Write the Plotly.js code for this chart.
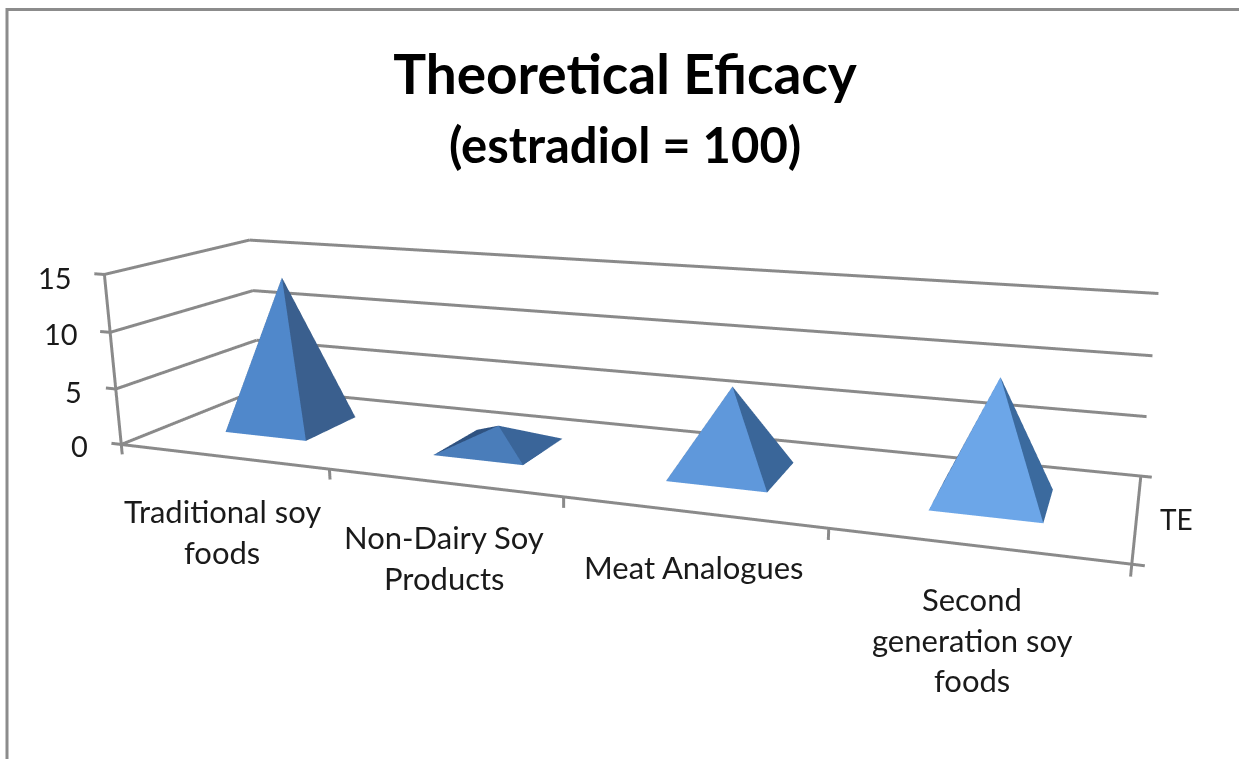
<!DOCTYPE html>
<html><head><meta charset="utf-8"><script src="https://cdn.plot.ly/plotly-3.0.0.min.js"></script>
<style>html,body{margin:0;background:#fff;width:1239px;height:759px;overflow:hidden;position:relative}#p{position:absolute}</style></head><body>
<div id="p"></div>
<script>
const categories=["Traditional soy<br>foods","Non-Dairy Soy<br>Products","Meat Analogues","Second<br>generation soy<br>foods"];
const values=[13.6,1.9,7.2,9.75];
const seriesName="TE";
const zTicks=[0,5,10,15];
const frontColors=['#5088CB','#4A7DBA','#5F98DB','#6CA6E8'];
const sideColors=['#3A5F8E','#3A6599','#3A6699','#3B6A9E'];
const backColors=['#2F4D75','#2F5280','#2F4D75','#2F5280'];
const labelX=[222,444,694,972], labelY=[511,537,567,599];
const tickRight=[89,83,79,73], tickY=[445,391,334,277];
const RX=[-.15,4.3],RY=[-.2,1],RZ=[-1.5,15.5];
const W=1300,HF=1200,L=-18,TOP=-182;
const el=document.getElementById('p');el.style.left=L+'px';el.style.top=TOP+'px';el.style.width=W+'px';el.style.height=HF+'px';
const PX=x=>(x-L)/W, PY=y=>1-(y-TOP)/HF;
const traces=[];
const gx=[],gy=[],gz=[];
function seg(a,b){gx.push(a[0],b[0],null);gy.push(a[1],b[1],null);gz.push(a[2],b[2],null)}
zTicks.forEach(t=>{seg([-.05,0,t],[0,0,t]);seg([0,0,t],[0,1,t]);seg([0,1,t],[4,1,t])});
seg([0,0,-.9],[0,0,15]);seg([0,0,0],[4,0,0]);seg([4,0,0],[4,1,0]);seg([4,0,-.9],[4,0,0]);seg([4,1,0],[4.04,1,0]);seg([4,0,0],[4.04,0,0]);
[1,2,3].forEach(i=>seg([i,0,-.9],[i,0,0]));
traces.push({type:'scatter3d',mode:'lines',x:gx,y:gy,z:gz,line:{color:'#8a8a8a',width:6},hoverinfo:'skip',showlegend:false});
values.forEach((v,i)=>{const cx=i+.495,cy=.51,hx=.2,hy=.2;const X=[cx-hx,cx+hx,cx+hx,cx-hx,cx],Y=[cy-hy,cy-hy,cy+hy,cy+hy,cy],Z=[0,0,0,0,v];
 traces.push({type:'mesh3d',name:categories[i].replace(/<br>/g,' '),x:X,y:Y,z:Z,i:[0,1,2,3],j:[1,2,3,0],k:[4,4,4,4],facecolor:[frontColors[i],sideColors[i],backColors[i],backColors[i]],flatshading:true,lighting:{ambient:1,diffuse:0,specular:0,fresnel:0,roughness:1},hoverinfo:'skip',showscale:false})});
const font={family:'Lato',size:31,color:'#1a1a1a'};
const ann=[];
function A(t,x,y,xa,f){ann.push({xref:'paper',yref:'paper',x:PX(x),y:PY(y),text:t,showarrow:false,xanchor:xa||'center',yanchor:'middle',font:f||font,borderpad:0})}
categories.forEach((c,i)=>c.split('<br>').forEach((t,j)=>A(t,labelX[i],labelY[i]+j*40.5)));
A(seriesName,1159,519,'left',{family:'Lato',size:28,color:'#1a1a1a'});
zTicks.forEach((t,i)=>A(String(t),tickRight[i],tickY[i],'right',{family:'Lato',size:29,color:'#1a1a1a'}));
A('<b>(estradiol = 100)</b>',625,144,'center',{family:'Lato',size:49,color:'#000'});
const az=.3539*17/16.5, dz=-.25*.3539/16.5;
Plotly.newPlot('p',traces,{width:W,height:HF,margin:{l:0,r:0,t:0,b:0,pad:0},paper_bgcolor:'rgba(0,0,0,0)',showlegend:false,autosize:false,
title:{text:'<b>Theoretical Eficacy</b>',xref:'paper',yref:'paper',x:PX(625),y:PY(75),xanchor:'center',yanchor:'middle',font:{family:'Lato',size:55,color:'#000'}},
annotations:ann,
shapes:[{type:'path',xref:'paper',yref:'paper',path:`M ${PX(7)} ${PY(780)} L ${PX(7)} ${PY(9.5)} L ${PX(1260)} ${PY(9.5)}`,line:{color:'#8c8c8c',width:3}}],
scene:{domain:{x:[0,1],y:[0,1]},aspectmode:'manual',aspectratio:{x:2,y:.5391,z:az},camera:{eye:{x:.8694,y:-2.2892,z:.6237+dz},center:{x:-.0076,y:.0789,z:-.073+dz},up:{x:-.0673,y:.1859,z:1},projection:{type:'perspective'}},
xaxis:{range:RX,visible:false},yaxis:{range:RY,visible:false},zaxis:{range:RZ,visible:false},bgcolor:'rgba(0,0,0,0)'}},{displayModeBar:false});
</script></body></html>
